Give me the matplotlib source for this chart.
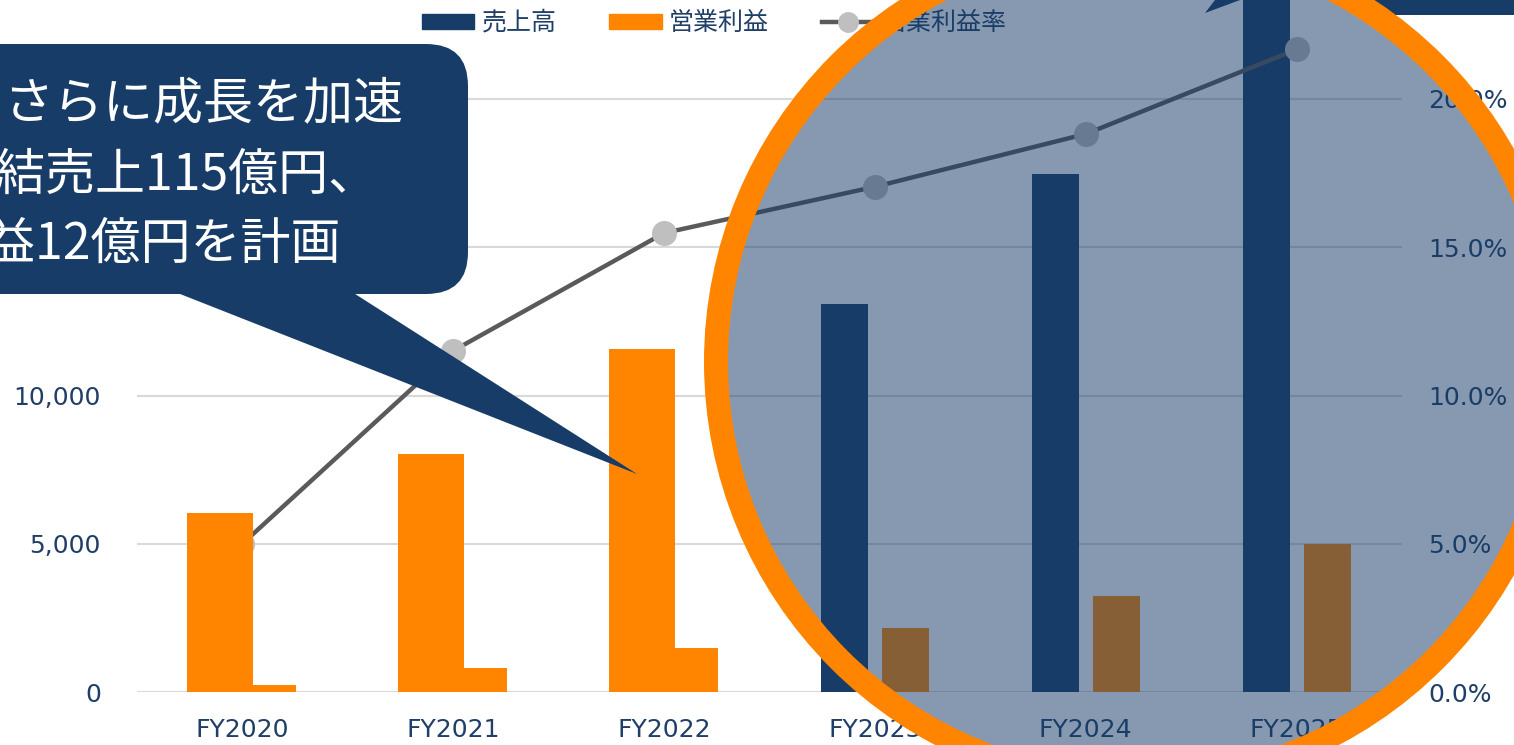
import matplotlib
matplotlib.use('Agg')
import numpy as np
import matplotlib.pyplot as plt
from matplotlib.patches import Circle, Polygon, FancyBboxPatch, Patch
from matplotlib.lines import Line2D
from matplotlib.ticker import FuncFormatter

# data
categories = ['FY2020', 'FY2021', 'FY2022', 'FY2023', 'FY2024', 'FY2025']
sales = [4700, 7000, 9600, 13070, 17470, 23600]        # 売上高
profit = [236, 809, 1484, 2160, 3240, 4990]            # 営業利益
margin = [0.0500, 0.1151, 0.1548, 0.1704, 0.1882, 0.2167]  # 営業利益率
cover = [6040, 8030, 11570]                             # orange boxes hiding 売上高 FY2020-22
left_ticks = [0, 5000, 10000, 15000, 20000]
right_ticks = [0.0, 0.05, 0.10, 0.15, 0.20]

NAVY = '#173C68'
ORANGE = '#FF8500'
GRID = '#D9D9D9'
LINE = '#5A5A5A'
MARK = '#BFBFBF'
TEXT = '#1F3F68'
JP = ['Noto Sans CJK JP', 'DejaVu Sans']

W, H = 1514, 745
fig = plt.figure(figsize=(W / 100, H / 100), dpi=100)

# plot area in pixels: left 137, right 1402, baseline 692, top cut by the picture edge
ax = fig.add_axes([137 / W, (H - 692) / H, (1402 - 137) / W, 692 / H])
ymax = 20000 * 692 / 593
x = np.arange(len(categories))
bw = 0.223
off = 0.145

ax.bar(x - off, sales, bw, color=NAVY, zorder=2)
ax.bar(x + off, profit, bw, color=ORANGE, zorder=2)
ax.set_xlim(-0.5, 5.5)
ax.set_ylim(0, ymax)
ax.set_yticks(left_ticks)
ax.yaxis.set_major_formatter(FuncFormatter(lambda v, p: f'{v:,.0f}'))
ax.set_xticks(x)
ax.set_xticklabels(categories)
ax.grid(axis='y', color=GRID, lw=1.5)
ax.set_axisbelow(True)
ax.tick_params(axis='y', length=0, pad=26, labelsize=18, labelcolor=TEXT)
ax.tick_params(axis='x', length=0, pad=19, labelsize=18, labelcolor=TEXT)
for s in ax.spines.values():
    s.set_visible(False)

ax2 = ax.twinx()
ax2.plot(x, margin, color=LINE, lw=3.2, marker='o', markersize=17,
         markerfacecolor=MARK, markeredgecolor=MARK, zorder=3)
ax2.set_ylim(0, ymax / 1e5)
ax2.set_yticks(right_ticks)
ax2.yaxis.set_major_formatter(FuncFormatter(lambda v, p: f'{v:.1%}'))
ax2.tick_params(axis='y', length=0, pad=19, labelsize=18, labelcolor=TEXT)
for s in ax2.spines.values():
    s.set_visible(False)

# orange boxes laid over the first three 売上高 bars
ax3 = ax.twinx()
ax3.set_ylim(0, ymax)
ax3.bar(x[:3] - 0.105, cover, 0.313, color=ORANGE, zorder=4)
ax3.axis('off')

handles = [Patch(color=NAVY), Patch(color=ORANGE),
           Line2D([], [], color=LINE, lw=3.2, marker='o', markersize=14,
                  markerfacecolor=MARK, markeredgecolor=MARK)]
fig.legend(handles, ['売上高', '営業利益', '営業利益率'], loc='center',
           bbox_to_anchor=(714 / W, 1 - 23 / H), ncol=3, frameon=False,
           prop={'family': JP, 'size': 18}, labelcolor=TEXT,
           handlelength=2.1, handleheight=0.55, handletextpad=0.3,
           columnspacing=2.1)

# overlay in pixel coordinates: callouts and highlight circle
ov = fig.add_axes([0, 0, 1, 1], zorder=10)
ov.set_xlim(0, W)
ov.set_ylim(H, 0)
ov.axis('off')

ov.add_patch(Polygon([(175, 292), (352, 292), (637, 474)], closed=True,
                     facecolor=NAVY, edgecolor='none'))
ov.add_patch(FancyBboxPatch((-300, 44), 768, 250,
                            boxstyle='round,pad=0,rounding_size=42',
                            facecolor=NAVY, edgecolor='none'))
ov.text(3, 104, 'さらに成長を加速', fontsize=36, color='white', family=JP,
        ha='left', va='center')
ov.text(-55, 176, '連結売上115億円、', fontsize=36, color='white', family=JP,
        ha='left', va='center')
ov.text(-165, 245, '営業利益12億円を計画', fontsize=36, color='white', family=JP,
        ha='left', va='center')

ov.add_patch(Polygon([(1205, 13), (1261, -60), (1402, -60)], closed=True,
                     facecolor=NAVY, edgecolor='none'))
ov.add_patch(FancyBboxPatch((1340, -150), 400, 165,
                            boxstyle='round,pad=0,rounding_size=30',
                            facecolor=NAVY, edgecolor='none'))

ov.add_patch(Circle((1137, 362), 421, facecolor=(0x17 / 255, 0x3C / 255, 0x68 / 255, 0.52),
                    edgecolor=ORANGE, lw=24 * 0.72))

fig.savefig('out.png', dpi=100)
